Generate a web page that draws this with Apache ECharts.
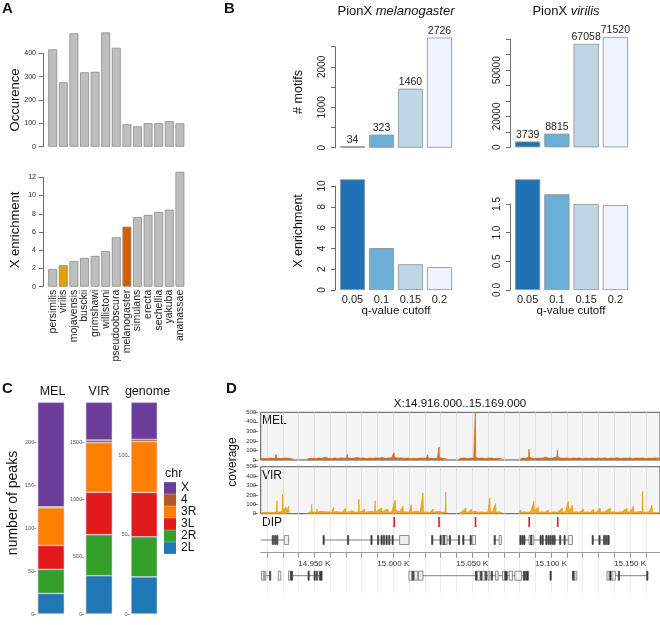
<!DOCTYPE html>
<html><head><meta charset="utf-8">
<script src="https://cdn.jsdelivr.net/npm/echarts@6/dist/echarts.min.js"></script>
<style>html,body{margin:0;padding:0;background:#fff}#c{width:660px;height:625px}</style>
</head><body><div id="c"></div><script>
const FONT = '"Liberation Sans", Arial, Helvetica, sans-serif';

// ---------- Panel A ----------
const speciesA = ['persimilis','virilis','mojavensis','busckii','grimshawi','willistoni','pseudoobscura','melanogaster','simulans','erecta','sechellia','yakuba','ananassae'];
const occurence = [417, 276, 486, 319, 321, 490, 424, 96, 87, 101, 101, 110, 100];
const xEnrichA = [1.94, 2.35, 2.82, 3.15, 3.37, 3.92, 5.42, 6.59, 7.62, 7.87, 8.2, 8.45, 12.6];

// ---------- Panel B ----------
const qCut = ['0.05', '0.1', '0.15', '0.2'];
const motifsMel = [34, 323, 1460, 2726];
const motifsVir = [3739, 8815, 67058, 71520];
const xEnrMel = [10.64, 4.03, 2.47, 2.2];
const xEnrVir = [1.93, 1.67, 1.5, 1.48];
const motifTicksMel = [0, 1000, 2000];
const motifTicksVir = [0, 20000, 50000];

// ---------- Panel C ----------
const chrNames = ['2L', '2R', '3L', '3R', '4', 'X'];
const legendOrder = ['X', '4', '3R', '3L', '2R', '2L'];
const groupsC = ['MEL', 'VIR', 'genome'];
const melPeaks = [24, 28, 28, 44, 1, 122];
const virPeaks = [335, 359, 371, 434, 23, 330];
const genomeMb = [23.5, 25.3, 28.1, 32.1, 1.35, 23.5];
const ticksC = [[0, 50, 100, 150, 200], [0, 500, 1000, 1500], [0, 50, 100]];

// ---------- Panel D ----------
const gridTicks = [14920,14930,14940,14950,14960,14970,14980,14990,15000,15010,15020,15030,15040,15050,15060,15070,15080,15090,15100,15110,15120,15130,15140,15150,15160];
const labelTicks = [14950, 15000, 15050, 15100, 15150];
const melCov = [[14916,12],[14918,18],[14920,14],[14922,20],[14924,15],[14925.3,22],[14925.7,58],[14926.1,20],[14928,16],[14930,18],[14932,22],[14932.7,38],[14933.2,40],[14933.6,18],[14935,14],[14936.6,10],[14936.8,null],[14945.4,null],[14945.5,10],[14947,15],[14949,18],[14951,16],[14953,20],[14955,18],[14956.6,30],[14957,24],[14959,18],[14961,16],[14963,20],[14965,17],[14967,22],[14969,18],[14970.5,25],[14970.8,58],[14971.1,24],[14973,18],[14975,20],[14977,25],[14979,18],[14981,22],[14983,16],[14985,20],[14987,18],[14989,22],[14991,20],[14993,25],[14995,18],[14997,22],[14999,24],[15000.1,30],[15000.4,75],[15000.8,28],[15002,35],[15003,20],[15005,22],[15007,18],[15009,20],[15011,16],[15013,18],[15015,15],[15017,20],[15019,18],[15021,20],[15021.8,55],[15022.2,20],[15024,18],[15026,16],[15028,18],[15028.8,30],[15029,138],[15029.2,25],[15031,18],[15033,15],[15034,12],[15034.2,null],[15041.6,null],[15041.7,12],[15043,18],[15045,22],[15047,16],[15049,20],[15051,20],[15051.8,30],[15052,490],[15052.2,30],[15054,18],[15056,20],[15058,16],[15060,18],[15062,22],[15064,16],[15066,18],[15068,15],[15069.2,12],[15069.4,null],[15080.6,null],[15080.7,12],[15082,20],[15084,18],[15085.8,30],[15086,112],[15086.3,28],[15088,18],[15090,16],[15092,20],[15094,18],[15096.5,30],[15097,22],[15099,18],[15101,20],[15103.7,35],[15104,105],[15104.3,30],[15106,22],[15108,18],[15110,20],[15112,16],[15114,20],[15116,18],[15118,22],[15120,16],[15122,20],[15124,18],[15126,22],[15128,16],[15130,20],[15132,18],[15134,22],[15136,16],[15138,20],[15140,18],[15142,24],[15144,16],[15146,20],[15148,18],[15150,22],[15152,16],[15154,20],[15156,18],[15158,22],[15160,16],[15162,20],[15164,18],[15166,22],[15169,16]];
const virCov = [[14916,8],[14918,15],[14919.4,12],[14919.7,30],[14920,10],[14922,14],[14924,12],[14926,18],[14926.3,140],[14926.6,20],[14928,15],[14929.6,25],[14929.9,210],[14930.2,30],[14931,20],[14932,70],[14932.4,25],[14933.4,30],[14933.7,80],[14934,20],[14934.7,8],[14934.9,null],[14945.7,null],[14945.8,8],[14947,15],[14948,20],[14948.3,100],[14948.6,20],[14950,15],[14951.5,20],[14951.7,50],[14952,15],[14954,25],[14955,12],[14957.2,20],[14957.4,40],[14957.7,15],[14959,20],[14960,30],[14961,12],[14962.1,70],[14962.4,15],[14964,25],[14966,15],[14968,20],[14969.7,60],[14970,15],[14972,20],[14974,30],[14976,15],[14978,20],[14978.2,155],[14978.5,20],[14980,25],[14981.8,50],[14982.1,15],[14984,20],[14986,25],[14988.2,20],[14988.5,140],[14988.8,20],[14990,30],[14992.6,60],[14992.9,20],[14994,25],[14996.6,50],[14996.9,15],[14999,20],[15001.2,145],[15001.5,40],[15002.5,25],[15004,20],[15006.1,80],[15006.4,15],[15008,20],[15010,15],[15011.4,95],[15011.7,15],[15013,20],[15015,30],[15017,15],[15018.8,220],[15019.1,15],[15021,20],[15023,12],[15025.2,50],[15025.5,15],[15027,20],[15029,25],[15031,15],[15033,20],[15033.2,230],[15033.5,15],[15034.6,8],[15034.8,null],[15041.6,null],[15041.7,8],[15043,15],[15045.9,60],[15046.2,15],[15048,20],[15049.5,50],[15049.8,15],[15052,25],[15054,15],[15056,20],[15058,15],[15060,20],[15061.2,170],[15061.5,20],[15063,25],[15064.8,110],[15065.1,15],[15067,20],[15069.1,8],[15069.3,null],[15079.7,null],[15079.8,8],[15080.7,40],[15081,15],[15083,20],[15085,15],[15087,20],[15089.1,130],[15089.4,30],[15091.9,70],[15092.2,15],[15094,20],[15096,15],[15098.2,40],[15098.5,12],[15100,15],[15102,20],[15104,15],[15107.1,60],[15107.4,15],[15109,20],[15110.9,130],[15111.2,25],[15113.5,90],[15113.8,15],[15116,20],[15118,15],[15120.5,50],[15120.8,15],[15123,20],[15125,15],[15126.8,50],[15127.1,15],[15129,20],[15131.1,60],[15131.4,15],[15134,20],[15137.4,60],[15137.7,15],[15140,20],[15142,15],[15145,20],[15148,60],[15148.3,15],[15150,20],[15152.2,80],[15152.5,15],[15155,20],[15157.7,25],[15158,240],[15158.3,20],[15160,15],[15162,20],[15163.9,90],[15164.2,15],[15166,12],[15169,10]];
const dipSites = [[15000.6,0],[15029,0],[15052.1,0],[15086.1,0],[15104.2,0]];
// [start, end, row]
const geneLines = [[14916,14934,1],[14955.3,15009.9,1],[15024.3,15041.7,1],[15043.6,15052.1,1],[15063.7,15068.6,1],[15079.8,15113.5,1],[15125.8,15136.8,1],
  [14916.5,14922.1,2],[14933.7,14954.9,2],[15009.9,15085.6,2],[15113.5,15116.3,2],[15135.4,15161.1,2]];
// [start, end, row, kind] kind 0 = coding, 1 = open box
const exons = [
 [14923.3,14923.8,1,0],[14924.8,14925.3,1,0],[14926.1,14926.6,1,0],[14930.9,14933.7,1,1],
 [14955.5,14956.0,1,0],[14971.0,14971.4,1,0],[14985.8,14986.3,1,0],[14990.0,14990.5,1,0],[14992.2,14992.7,1,0],[14993.7,14994.2,1,0],[14995.4,14995.9,1,0],[14997.1,14997.6,1,0],[14999.2,14999.7,1,0],[15004.0,15009.9,1,1],
 [15024.3,15024.8,1,0],[15029.6,15030.1,1,0],[15030.9,15034.1,1,1],[15031.8,15032.4,1,0],[15035.5,15036.0,1,0],[15041.3,15041.8,1,0],
 [15044.0,15044.5,1,0],[15048.7,15049.2,1,0],[15050.0,15052.1,1,1],
 [15063.9,15064.4,1,0],[15067.1,15068.6,1,1],
 [15080.2,15081.0,1,0],[15081.5,15082.2,1,0],[15082.7,15083.4,1,0],[15086.0,15089.0,1,1],[15087.0,15087.5,1,0],[15093.0,15093.5,1,0],[15094.3,15094.8,1,0],[15096.6,15097.3,1,0],[15098.0,15098.6,1,0],[15099.3,15100.0,1,0],[15100.6,15101.3,1,0],[15101.8,15102.4,1,0],[15105.4,15105.9,1,0],[15108.2,15108.7,1,0],[15110.9,15113.5,1,1],
 [15126.0,15126.5,1,0],[15130.3,15130.8,1,0],[15133.2,15133.8,1,0],[15134.5,15135.1,1,0],[15135.8,15136.8,1,0],
 [14916.5,14918.0,2,1],[14918.3,14919.3,2,1],[14921.6,14922.1,2,0],[14927.1,14928.8,2,1],[14933.7,14934.8,2,1],[14935.0,14936.2,2,0],[14946.0,14946.5,2,0],[14949.8,14950.3,2,0],[14951.3,14951.8,2,0],[14953.2,14954.9,2,0],
 [15009.9,15011.8,2,1],[15012.0,15013.0,2,0],[15013.3,15015.5,2,1],[15016,15018.8,2,1],
 [15052.1,15053.0,2,0],[15053.3,15055.0,2,1],[15055.3,15056.0,2,0],[15056.4,15058.0,2,1],[15058.4,15059.2,2,0],[15060.0,15061.2,2,1],[15062.1,15062.6,2,0],[15064.8,15066.5,2,1],[15069.2,15070.5,2,1],[15070.8,15072.2,2,0],[15073.4,15075.6,2,1],[15077.0,15081.3,2,1],[15082.4,15083.5,2,0],[15084.0,15085.6,2,0],
 [15099.3,15099.8,2,0],[15113.5,15114.6,2,0],[15115.0,15116.3,2,1],
 [15135.4,15136.8,2,1],[15137.2,15138.0,2,0],[15138.5,15140.7,2,1],[15142.6,15143.1,2,0],[15160.6,15161.1,2,0]
];

// ---------- styling ----------
const blues = ['#2171B5', '#6BAED6', '#BDD7E7', '#EFF3FF'];
const chrColors = {'X':'#6A3D9A','4':'#B15928','3R':'#FF7F00','3L':'#E31A1C','2R':'#33A02C','2L':'#1F78B4'};
const speciesColor = {'virilis':'#E69F00','melanogaster':'#D55E00'};
const rowY = [30.7, 12.7, -23];
const plain = v => String(v);

const grids = [
  {left:47.4, top:53.4, width:137.8, height:93.3},
  {left:47.4, top:177.3, width:137.8, height:109.4},
  {left:338, top:46.7, width:116, height:101},
  {left:513, top:39.3, width:117, height:108},
  {left:338, top:186, width:116, height:104},
  {left:513, top:204, width:117, height:86},
  {left:37.7, top:402.3, width:26.6, height:211.7},
  {left:85.7, top:402.3, width:26.6, height:211.7},
  {left:131, top:402.3, width:26.3, height:211.7},
  {left:260.7, top:412.3, width:399.3, height:47.7, show:true, backgroundColor:'#f4f4f4', borderColor:'#555', borderWidth:1},
  {left:260.7, top:466.7, width:399.3, height:47, show:true, backgroundColor:'#f4f4f4', borderColor:'#555', borderWidth:1},
  {left:260.7, top:515, width:399.3, height:78},
  {left:260.7, top:552.7, width:399.3, height:40}
];

function rY(g, max, interval, o) {
  return {type:'value', gridIndex:g, min:0, max:max, interval:interval, offset:o.offset,
    axisLine:{show:true, lineStyle:{color:'#444', width:0.8}},
    axisTick:{show:true, length:4, lineStyle:{color:'#444', width:0.8}},
    axisLabel:{customValues:o.labels, formatter:o.fmt || plain, rotate:o.rot || 0, fontSize:o.fs, color:'#222', margin:o.margin, fontFamily:FONT},
    splitLine:{show:false}};
}
function catX(g, data, o) {
  return {type:'category', gridIndex:g, data:data,
    axisLine:{show:false}, axisTick:{show:false},
    axisLabel:o ? Object.assign({interval:0, color:'#222', fontFamily:FONT}, o) : {show:false}};
}

const xAxes = [
  catX(0, speciesA), catX(1, speciesA, {rotate:90, fontSize:10.5, margin:3}),
  catX(2, qCut), catX(3, qCut),
  catX(4, qCut, {fontSize:11, margin:4}), catX(5, qCut, {fontSize:11, margin:4}),
  catX(6, ['MEL']), catX(7, ['VIR']), catX(8, ['genome'])
];
const yAxes = [
  rY(0, 400, 100, {offset:4.4, fs:7, margin:7}),
  rY(1, 12, 2, {offset:4.4, fs:7, margin:7}),
  rY(2, 2500, 500, {offset:3, fs:10, margin:8, rot:90, labels:motifTicksMel}),
  rY(3, 70000, 10000, {offset:3, fs:10, margin:8, rot:90, labels:motifTicksVir}),
  rY(4, 10, 2, {offset:3, fs:10, margin:8, rot:90}),
  rY(5, 1.5, 0.5, {offset:3, fs:10, margin:8, rot:90, fmt:v => v.toFixed(1)})
];
for (let g = 0; g < 3; g++) {
  yAxes.push({type:'value', gridIndex:6+g, min:0, max:'dataMax', offset:1.5,
    axisLine:{show:false},
    axisTick:{show:true, length:2, customValues:ticksC[g], lineStyle:{color:'#444', width:0.6}},
    axisLabel:{customValues:ticksC[g], formatter:plain, fontSize:5.5, color:'#555', margin:2, fontFamily:FONT},
    splitLine:{show:false}});
}
// Panel D axes
[9, 10].forEach(g => {
  xAxes.push({type:'value', gridIndex:g, min:14916, max:15169,
    axisLine:{show:false}, axisTick:{show:false, customValues:gridTicks}, axisLabel:{show:false},
    splitLine:{show:true, lineStyle:{color:'#d9d9d9', width:0.8}}});
  yAxes.push({type:'value', gridIndex:g, min:0, max:500, interval:100, offset:2.5,
    axisLine:{show:false}, axisTick:{show:true, length:4, lineStyle:{color:'#555', width:0.7}},
    axisLabel:{formatter:plain, fontSize:6, color:'#333', margin:2, fontFamily:FONT}, splitLine:{show:false}});
});
// gene track (grid 11)
xAxes.push({type:'value', gridIndex:11, min:14916, max:15169,
  axisLine:{show:false}, axisTick:{show:false, customValues:gridTicks}, axisLabel:{show:false},
  splitLine:{show:true, lineStyle:{color:'#e6e6e6', width:0.8}}});
yAxes.push({type:'value', gridIndex:11, min:-40.3, max:37.7, show:false});
// coordinate scale (grid 12)
xAxes.push({type:'value', gridIndex:12, min:14916, max:15169, position:'top',
  axisLine:{show:true, onZero:false, lineStyle:{color:'#9a9a9a', width:1}},
  axisTick:{show:true, inside:true, customValues:gridTicks, length:5, lineStyle:{color:'#9a9a9a'}},
  axisLabel:{inside:true, customValues:labelTicks, formatter:v => (v/1000).toFixed(3) + ' K', fontSize:8, color:'#333', margin:7, fontFamily:FONT},
  splitLine:{show:false}});
yAxes.push({type:'value', gridIndex:12, min:0, max:1, show:false});

const series = [];
series.push({type:'bar', name:'occ', xAxisIndex:0, yAxisIndex:0, data:occurence, barCategoryGap:'16%', clip:false, silent:true,
  itemStyle:{color:'#BEBEBE', borderColor:'#8a8a8a', borderWidth:0.8}});
series.push({type:'bar', name:'xenrA', xAxisIndex:1, yAxisIndex:1, data:xEnrichA, barCategoryGap:'16%', clip:false, silent:true,
  itemStyle:{color:p => speciesColor[speciesA[p.dataIndex]] || '#BEBEBE', borderColor:'#8a8a8a', borderWidth:0.8}});
const bStyle = {color:p => blues[p.dataIndex], borderColor:'#8f8f8f', borderWidth:0.8};
const bLabel = {show:true, position:'top', distance:1, fontSize:10.5, color:'#222', fontFamily:FONT};
series.push({type:'bar', name:'mMel', xAxisIndex:2, yAxisIndex:2, data:motifsMel, barCategoryGap:'14%', clip:false, silent:true, itemStyle:bStyle, label:bLabel});
series.push({type:'bar', name:'mVir', xAxisIndex:3, yAxisIndex:3, data:motifsVir, barCategoryGap:'14%', clip:false, silent:true, itemStyle:bStyle, label:bLabel});
series.push({type:'bar', name:'eMel', xAxisIndex:4, yAxisIndex:4, data:xEnrMel, barCategoryGap:'14%', clip:false, silent:true, itemStyle:bStyle});
series.push({type:'bar', name:'eVir', xAxisIndex:5, yAxisIndex:5, data:xEnrVir, barCategoryGap:'14%', clip:false, silent:true, itemStyle:bStyle});

const valsC = [melPeaks, virPeaks, genomeMb];
for (let g = 0; g < 3; g++) {
  chrNames.forEach((c, i) => {
    series.push({type:'bar', name:c, stack:'s' + g, xAxisIndex:6+g, yAxisIndex:6+g, data:[valsC[g][i]], barWidth:'100%', silent:true,
      itemStyle:{color:chrColors[c], borderColor:'#d6cfe8', borderWidth:0.6}});
  });
}
series.push({type:'line', name:'melCov', xAxisIndex:9, yAxisIndex:9, data:melCov, showSymbol:false, connectNulls:false, silent:true,
  lineStyle:{color:'#D55E00', width:0.7}, areaStyle:{color:'#D55E00', opacity:0.85}});
series.push({type:'line', name:'virCov', xAxisIndex:10, yAxisIndex:10, data:virCov, showSymbol:false, connectNulls:false, silent:true,
  lineStyle:{color:'#E69F00', width:0.7}, areaStyle:{color:'#E69F00', opacity:0.85}});
series.push({type:'custom', name:'introns', xAxisIndex:11, yAxisIndex:11, data:geneLines, silent:true,
  renderItem:(params, api) => {
    const y = rowY[api.value(2)];
    const p0 = api.coord([api.value(0), y]), p1 = api.coord([api.value(1), y]);
    return {type:'line', shape:{x1:p0[0], y1:p0[1], x2:p1[0], y2:p1[1]}, style:{stroke:'#808080', lineWidth:1}};
  }});
series.push({type:'custom', name:'exons', xAxisIndex:11, yAxisIndex:11, data:exons, silent:true,
  renderItem:(params, api) => {
    const y = rowY[api.value(2)], kind = api.value(3);
    const p0 = api.coord([api.value(0), y]), p1 = api.coord([api.value(1), y]);
    const w = Math.max(p1[0] - p0[0], 1.2);
    return {type:'rect', shape:{x:p0[0], y:p0[1] - 4.5, width:w, height:9},
      style:{fill:kind ? '#eeeeee' : '#3c3c3c', stroke:kind ? '#666' : '#3c3c3c', lineWidth:0.7}};
  }});
series.push({type:'custom', name:'dip', xAxisIndex:11, yAxisIndex:11, data:dipSites, silent:true,
  renderItem:(params, api) => {
    const p = api.coord([api.value(0), rowY[api.value(1)]]);
    return {type:'rect', shape:{x:p[0] - 0.8, y:p[1] - 5, width:1.6, height:10}, style:{fill:'#E41A1C'}};
  }});

function T(x, y, text, size, o) {
  o = o || {};
  return {type:'text', x:x, y:y, rotation:o.rot || 0, silent:true,
    style:{text:text, font:(o.weight || 'normal') + ' ' + size + 'px ' + FONT, fill:o.color || '#111',
      textAlign:o.align || 'left', textVerticalAlign:'middle', verticalAlign:'middle'}};
}
const R = Math.PI / 2;
const graphic = [
  T(2, 9, 'A', 15, {weight:'bold'}), T(224, 9, 'B', 15, {weight:'bold'}),
  T(2, 389, 'C', 15, {weight:'bold'}), T(226, 389, 'D', 15, {weight:'bold'}),
  T(15, 100, 'Occurence', 13, {rot:R, align:'center'}),
  T(15, 230, 'X enrichment', 13, {rot:R, align:'center'}),
  T(299, 92, '# motifs', 12.5, {rot:R, align:'center'}),
  T(299, 231, 'X enrichment', 12.5, {rot:R, align:'center'}),
  {type:'text', x:396, y:11, silent:true, style:{text:'{a|PionX }{b|melanogaster}', textAlign:'center', verticalAlign:'middle', textVerticalAlign:'middle', fill:'#111',
    rich:{a:{font:'13px ' + FONT, fill:'#111'}, b:{font:'italic 13px ' + FONT, fill:'#111'}}}},
  {type:'text', x:566, y:11, silent:true, style:{text:'{a|PionX }{b|virilis}', textAlign:'center', verticalAlign:'middle', textVerticalAlign:'middle', fill:'#111',
    rich:{a:{font:'13px ' + FONT, fill:'#111'}, b:{font:'italic 13px ' + FONT, fill:'#111'}}}},
  T(396, 311, 'q-value cutoff', 11.5, {align:'center'}),
  T(571, 311, 'q-value cutoff', 11.5, {align:'center'}),
  T(52.5, 392, groupsC[0], 12.5, {align:'center'}), T(99, 392, groupsC[1], 12.5, {align:'center'}), T(147.5, 392, groupsC[2], 12.5, {align:'center'}),
  T(13, 503, 'number of peaks', 14, {rot:R, align:'center'}),
  T(165, 474, 'chr', 12.5),
  T(460, 404, 'X:14.916.000..15.169.000', 11.5, {align:'center'}),
  T(262, 421, 'MEL', 12), T(262, 476, 'VIR', 12), T(262, 523, 'DIP', 12),
  T(233, 462, 'coverage', 12, {rot:R, align:'center'})
];

const chart = echarts.init(document.getElementById('c'), null, {renderer:'canvas'});
chart.setOption({
  animation:false,
  backgroundColor:'#fff',
  textStyle:{fontFamily:FONT},
  grid:grids, xAxis:xAxes, yAxis:yAxes, series:series,
  legend:{data:legendOrder, left:164, top:482, orient:'vertical', icon:'rect', itemWidth:12, itemHeight:11.7, itemGap:0, padding:0,
    selectedMode:false, textStyle:{fontSize:12, lineHeight:11.7, color:'#111', fontFamily:FONT}, itemStyle:{borderWidth:0}},
  graphic:graphic
});
</script></body></html>
